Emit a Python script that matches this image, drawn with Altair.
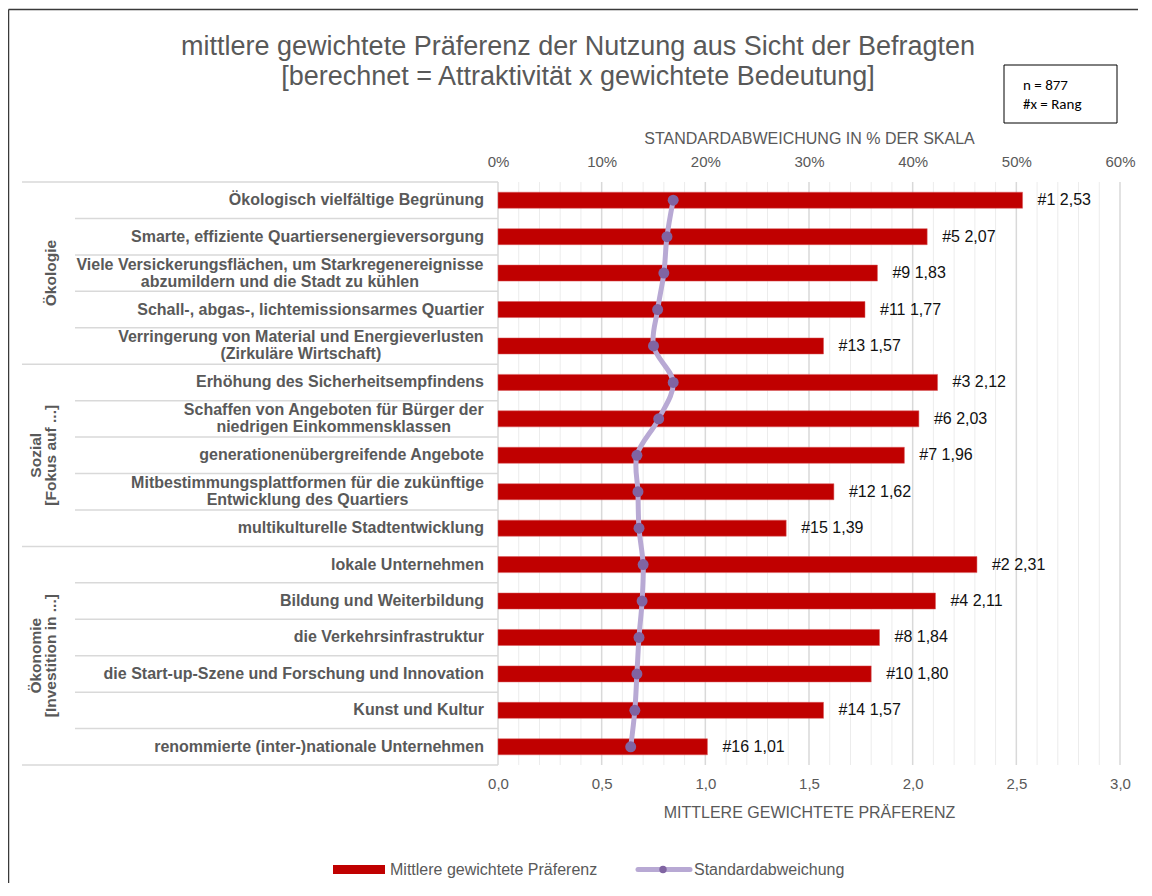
import altair as alt
import pandas as pd

# ---------------- data ----------------
categories = [
    "Ökologisch vielfältige Begrünung",
    "Smarte, effiziente Quartiersenergieversorgung",
    "Viele Versickerungsflächen, um Starkregenereignisse\nabzumildern und die Stadt zu kühlen",
    "Schall-, abgas-, lichtemissionsarmes Quartier",
    "Verringerung von Material und Energieverlusten\n(Zirkuläre Wirtschaft)",
    "Erhöhung des Sicherheitsempfindens",
    "Schaffen von Angeboten für Bürger der\nniedrigen Einkommensklassen",
    "generationenübergreifende Angebote",
    "Mitbestimmungsplattformen für die zukünftige\nEntwicklung des Quartiers",
    "multikulturelle Stadtentwicklung",
    "lokale Unternehmen",
    "Bildung und Weiterbildung",
    "die Verkehrsinfrastruktur",
    "die Start-up-Szene und Forschung und Innovation",
    "Kunst und Kultur",
    "renommierte (inter-)nationale Unternehmen",
]
groups = ["Ökologie"] * 5 + ["Sozial"] * 5 + ["Ökonomie"] * 6
group_names = ["Ökologie", "Sozial", "Ökonomie"]
group_sub = ["", "[Fokus auf ...]", "[Investition in ...]"]
preference = [2.53, 2.07, 1.83, 1.77, 1.57, 2.12, 2.03, 1.96, 1.62, 1.39,
              2.31, 2.11, 1.84, 1.80, 1.57, 1.01]
ranks = [1, 5, 9, 11, 13, 3, 6, 7, 12, 15, 2, 4, 8, 10, 14, 16]
std_pct = [16.9, 16.3, 16.0, 15.4, 15.0, 16.9, 15.5, 13.4, 13.5, 13.6,
           14.0, 13.9, 13.6, 13.4, 13.2, 12.8]
pref_ticks = [0, 0.5, 1.0, 1.5, 2.0, 2.5, 3.0]
pct_ticks = [0, 10, 20, 30, 40, 50, 60]

W, H = 622, 583
PAD = {"left": 490, "top": 174, "right": 18, "bottom": 118}
GREY = "#595959"
FONT = "Liberation Sans"
CAT_SIZE = 16

# approximate Arial/Liberation Sans Bold advance widths (per 1000 em)
_bw = {' ': 278, ',': 278, '(': 333, ')': 333, '-': 333, '.': 278,
       'a': 556, 'b': 611, 'c': 556, 'd': 611, 'e': 556, 'f': 333, 'g': 611, 'h': 611,
       'i': 278, 'j': 278, 'k': 556, 'l': 278, 'm': 889, 'n': 611, 'o': 611, 'p': 611,
       'q': 611, 'r': 389, 's': 556, 't': 333, 'u': 611, 'v': 556, 'w': 778, 'x': 556,
       'y': 556, 'z': 500, 'ä': 556, 'ö': 611, 'ü': 611,
       'A': 722, 'B': 722, 'C': 722, 'D': 722, 'E': 667, 'F': 611, 'G': 778, 'H': 722,
       'I': 278, 'K': 722, 'L': 611, 'M': 833, 'N': 722, 'O': 778, 'P': 667, 'R': 722,
       'S': 667, 'T': 611, 'U': 722, 'V': 667, 'W': 944, 'Z': 611, 'Ö': 778}


def text_w(s, size=CAT_SIZE):
    return sum(_bw.get(c, 600) for c in s) * size / 1000.0


rows = pd.DataFrame({
    "idx": list(range(len(categories))),
    "lines": [c.split("\n") for c in categories],
    "multi": [("\n" in c) for c in categories],
    "group": groups,
    "pref": preference,
    "rank": ranks,
    "sd": std_pct,
})
rows["cx"] = [-14 - max(text_w(l) for l in c.split("\n")) / 2 for c in categories]

ys = alt.Scale(domain=[-0.5, len(categories) - 0.5], reverse=True, nice=False, zero=False)
xs = alt.Scale(domain=[0, 3], nice=False, zero=True)

one = pd.DataFrame({"k": [0]})

bottom_axis = alt.Axis(
    values=pref_ticks, grid=False, domain=False, ticks=False, tickSize=0,
    labelExpr="replace(format(datum.value, '.1f'), '.', ',')", labelFlush=False,
    labelFont=FONT, labelFontSize=15, labelColor=GREY, labelPadding=11,
    title="MITTLERE GEWICHTETE PRÄFERENZ", titleFont=FONT, titleFontSize=16,
    titleFontWeight="normal", titleColor=GREY, titlePadding=13)

# ---------------- gridlines ----------------
grid = alt.Chart(pd.DataFrame({"v": [i / 10 for i in range(31)]})).mark_rule().encode(
    x=alt.X("v:Q", scale=xs, axis=bottom_axis),
    color=alt.condition("abs(round(datum.v*10)) % 5 == 0", alt.value("#d9d9d9"), alt.value("#ececec")),
    strokeWidth=alt.condition("abs(round(datum.v*10)) % 5 == 0", alt.value(1.5), alt.value(1)),
)

# ---------------- separators ----------------
bounds = pd.DataFrame({"b": [i - 0.5 for i in range(len(categories) + 1)]})
group_starts = [groups.index(g) - 0.5 for g in group_names] + [len(categories) - 0.5]
bounds["outer"] = bounds["b"].isin(group_starts)
sep_inner = alt.Chart(bounds).transform_filter("!datum.outer").mark_rule(
    color="#d9d9d9", strokeWidth=1.5).encode(
    y=alt.Y("b:Q", scale=ys, axis=None), x=alt.value(-423), x2=alt.value(0))
sep_outer = alt.Chart(bounds).transform_filter("datum.outer").mark_rule(
    color="#d9d9d9", strokeWidth=1.5).encode(
    y=alt.Y("b:Q", scale=ys, axis=None), x=alt.value(-476), x2=alt.value(0))

# ---------------- bars ----------------
bars = alt.Chart(rows).transform_calculate(
    y0="datum.idx - 0.22", y1="datum.idx + 0.22"
).mark_bar(color="#c00000", stroke="#d9595a", strokeWidth=0.5).encode(
    x=alt.X("pref:Q", scale=xs, axis=bottom_axis),
    x2=alt.value(0),
    y=alt.Y("y0:Q", scale=ys, axis=None),
    y2="y1:Q",
)

vlabels = alt.Chart(rows).transform_calculate(
    txt="'#' + datum.rank + ' ' + replace(format(datum.pref, '.2f'), '.', ',')"
).mark_text(align="left", baseline="middle", dx=15, font=FONT, fontSize=16, color="#111111").encode(
    x=alt.X("pref:Q", scale=xs, axis=bottom_axis),
    y=alt.Y("idx:Q", scale=ys, axis=None),
    text="txt:N",
)

# ---------------- category labels ----------------
cat_single = alt.Chart(rows).transform_filter("!datum.multi").mark_text(
    align="right", baseline="middle", font=FONT, fontSize=CAT_SIZE, fontWeight="bold", color=GREY
).encode(x=alt.value(-14), y=alt.Y("idx:Q", scale=ys, axis=None), text="lines")

cat_multi = alt.Chart(rows).transform_filter("datum.multi").mark_text(
    align="center", baseline="middle", font=FONT, fontSize=CAT_SIZE, fontWeight="bold",
    color=GREY, lineHeight=17, dy=-8.5
).encode(x=alt.value(0), xOffset=alt.XOffset("cx:Q", scale=None),
         y=alt.Y("idx:Q", scale=ys, axis=None), text="lines")

gdf = pd.DataFrame({
    "gname": group_names,
    "gidx": [sum(i for i, g in enumerate(groups) if g == n) / groups.count(n) for n in group_names],
    "glines": [[n] + ([s] if s else []) for n, s in zip(group_names, group_sub)],
})
gdf["gshift"] = [-15 * (len(l) - 1) for l in gdf["glines"]]
glabels = alt.Chart(gdf).mark_text(
    angle=270, align="center", baseline="bottom", font=FONT, fontSize=15.5,
    fontWeight="bold", color=GREY, lineHeight=15
).encode(x=alt.value(-439), xOffset=alt.XOffset("gshift:Q", scale=None),
         y=alt.Y("gidx:Q", scale=ys, axis=None), text="glines")

# ---------------- decorations ----------------
right_edge = W + PAD["right"]
bottom_edge = H + PAD["bottom"]
frame_top = alt.Chart(one).mark_rule(color="#3a3a3a", strokeWidth=1.5).encode(
    x=alt.value(-489.5), x2=alt.value(right_edge), y=alt.value(-172.5))
frame_left = alt.Chart(one).mark_rule(color="#3a3a3a", strokeWidth=1.5).encode(
    x=alt.value(-489.5), y=alt.value(-172.5), y2=alt.value(bottom_edge))

title = alt.Chart(one).mark_text(
    text=["mittlere gewichtete Präferenz der Nutzung aus Sicht der Befragten",
          "[berechnet = Attraktivität x gewichtete Bedeutung]"],
    align="center", baseline="middle", font=FONT, fontSize=27, color=GREY, lineHeight=30
).encode(x=alt.value(80), y=alt.value(-135))

info_box = alt.Chart(one).mark_rect(fill="white", stroke="#000000", strokeWidth=1).encode(
    x=alt.value(506), x2=alt.value(619), y=alt.value(-117), y2=alt.value(-59))
info_text = alt.Chart(one).mark_text(
    text=["n = 877", "#x = Rang"], align="left", baseline="middle",
    font="Carlito, Lato", fontSize=15, color="#000000", lineHeight=19
).encode(x=alt.value(525), y=alt.value(-97))

leg_bar = alt.Chart(one).mark_rect(color="#c00000").encode(
    x=alt.value(-165), x2=alt.value(-113), y=alt.value(683), y2=alt.value(692))
leg_bar_t = alt.Chart(one).mark_text(
    text="Mittlere gewichtete Präferenz", align="left", baseline="middle",
    font=FONT, fontSize=16, color=GREY).encode(x=alt.value(-108), y=alt.value(687.5))
leg_line = alt.Chart(one).mark_rule(color="#b8a9d4", strokeWidth=5, strokeCap="round").encode(
    x=alt.value(140), x2=alt.value(192), y=alt.value(687.5))
leg_dot = alt.Chart(one).mark_point(filled=True, color="#8064a2", opacity=1, size=55).encode(
    x=alt.value(165), y=alt.value(687.5))
leg_line_t = alt.Chart(one).mark_text(
    text="Standardabweichung", align="left", baseline="middle",
    font=FONT, fontSize=16, color=GREY).encode(x=alt.value(196), y=alt.value(687.5))

layer_a = alt.layer(
    grid, frame_top, frame_left, sep_inner, sep_outer, bars, vlabels, cat_single, cat_multi,
    glabels, title, info_box, info_text, leg_bar, leg_bar_t, leg_line, leg_dot, leg_line_t,
)

# ---------------- std deviation line (top axis) ----------------
top_axis = alt.Axis(
    orient="top", values=pct_ticks, grid=False, domain=False, ticks=False, tickSize=0,
    labelExpr="datum.value + '%'", labelFlush=False, labelFont=FONT, labelFontSize=15,
    labelColor=GREY, labelPadding=13, title="STANDARDABWEICHUNG IN % DER SKALA",
    titleFont=FONT, titleFontSize=16, titleFontWeight="normal", titleColor=GREY,
    titlePadding=8)

sd_base = alt.Chart(rows).encode(
    x=alt.X("sd:Q", scale=alt.Scale(domain=[0, 60], nice=False, zero=True), axis=top_axis),
    y=alt.Y("idx:Q", scale=ys, axis=None),
    order=alt.Order("idx:Q"),
)
sd_line = sd_base.mark_line(color="#b8a9d4", strokeWidth=5, interpolate="catmull-rom")
sd_pts = sd_base.mark_point(filled=True, color="#8064a2", opacity=1, size=120)
layer_b = alt.layer(sd_line, sd_pts)

chart = alt.layer(layer_a, layer_b).resolve_scale(x="independent").properties(
    width=W, height=H,
    padding=PAD,
    autosize=alt.AutoSizeParams(type="none"),
    background="white",
).configure_view(stroke=None)

chart.save("out.html", embed_options={"renderer": "svg", "actions": False})
